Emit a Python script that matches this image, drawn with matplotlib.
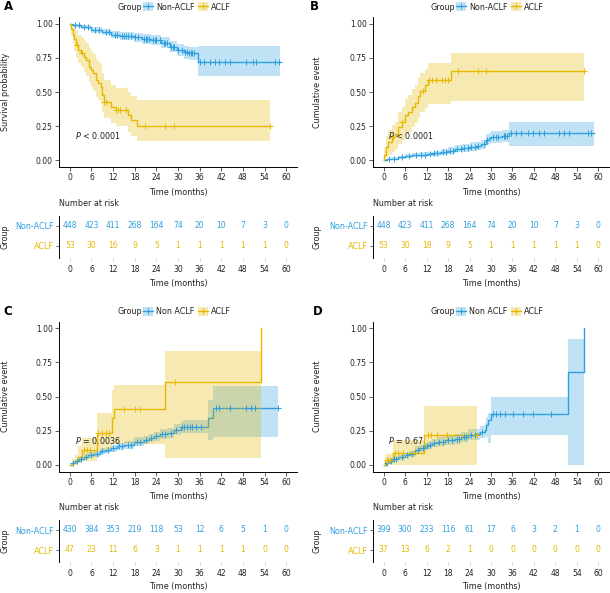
import numpy as np
import matplotlib.pyplot as plt
from matplotlib.patches import Patch
from matplotlib.lines import Line2D

W, H = 610, 593
BLUE = '#2E9FDF'
YELLOW = '#E7B800'
TXT = '#222222'

months = [0, 6, 12, 18, 24, 30, 36, 42, 48, 54, 60]

# ---- A: survival probability ----
A_non_t = [0, 1, 3, 6, 9, 11.4, 14, 17.8, 20, 22.4, 25.2, 27.9, 29.8, 31.6, 33, 35.5]
A_non_v = [1, 0.99, 0.975, 0.955, 0.94, 0.92, 0.91, 0.90, 0.89, 0.88, 0.862, 0.833, 0.81, 0.79, 0.784, 0.718]
A_non_lo = [1, 0.98, 0.96, 0.935, 0.915, 0.893, 0.88, 0.867, 0.855, 0.843, 0.822, 0.79, 0.765, 0.743, 0.735, 0.615]
A_non_up = [1, 1.0, 0.99, 0.975, 0.963, 0.945, 0.937, 0.93, 0.922, 0.915, 0.9, 0.875, 0.855, 0.838, 0.833, 0.835]
A_non_end = 58.3
A_non_cens = [1.5, 2.5, 4, 5, 7, 8, 10, 11, 12.5, 13, 14.5, 15, 15.5, 16, 17, 18, 19, 20.5, 21, 21.5,
              22, 23, 23.5, 24, 25, 26, 26.5, 27, 28, 28.5, 29, 30, 31, 32, 32.5, 33, 33.5, 34, 34.5,
              36.0, 37.1, 38.8, 40.2, 41.3, 43.1, 44.3, 48.8, 50.7, 51.7, 57.0, 57.9]

A_aclf_t = [0, 0.4, 0.8, 1.2, 1.7, 2.4, 3.0, 4.0, 4.4, 5.3, 5.8, 6.3, 7.2, 7.8, 8.6, 9.0, 9.5, 11.3, 12.7, 16.0, 16.9, 18.7]
A_aclf_v = [1, 0.96, 0.92, 0.885, 0.845, 0.81, 0.785, 0.76, 0.735, 0.686, 0.66, 0.637, 0.588, 0.565, 0.539, 0.478, 0.43, 0.39, 0.368, 0.33, 0.294, 0.25]
A_aclf_lo = [1, 0.91, 0.85, 0.80, 0.75, 0.71, 0.68, 0.65, 0.62, 0.57, 0.54, 0.51, 0.46, 0.44, 0.41, 0.35, 0.31, 0.27, 0.25, 0.21, 0.18, 0.142]
A_aclf_up = [1, 1.0, 0.99, 0.97, 0.95, 0.92, 0.90, 0.88, 0.86, 0.82, 0.80, 0.78, 0.74, 0.72, 0.70, 0.64, 0.59, 0.55, 0.53, 0.50, 0.47, 0.445]
A_aclf_end = 55.6
A_aclf_cens = [1.9, 3.4, 9.6, 10.0, 12.8, 13.3, 13.8, 15.5, 20.9, 26.5, 29.0, 55.6]

A_risk_non = [448, 423, 411, 268, 164, 74, 20, 10, 7, 3, 0]
A_risk_aclf = [53, 30, 16, 9, 5, 1, 1, 1, 1, 1, 0]

# ---- B: cumulative event ----
B_non_t = [0, 1, 2, 4, 6, 8, 10, 12, 14, 16, 18, 20, 22, 24, 26, 27.3, 28.7, 29.5, 30.1, 33, 35]
B_non_v = [0, 0.005, 0.01, 0.02, 0.03, 0.035, 0.04, 0.045, 0.05, 0.06, 0.07, 0.085, 0.09, 0.1, 0.105, 0.118, 0.15, 0.16, 0.17, 0.175, 0.2]
B_non_lo = [0, 0, 0, 0.008, 0.015, 0.02, 0.023, 0.027, 0.03, 0.038, 0.046, 0.058, 0.062, 0.07, 0.074, 0.085, 0.11, 0.12, 0.128, 0.13, 0.105]
B_non_up = [0, 0.012, 0.02, 0.032, 0.045, 0.05, 0.057, 0.063, 0.07, 0.082, 0.094, 0.112, 0.118, 0.13, 0.136, 0.151, 0.19, 0.2, 0.212, 0.22, 0.282]
B_non_end = 58.9
B_non_cens = [1.5, 3, 5, 7, 9, 10.5, 11.5, 13, 14, 15, 16.5, 17.5, 18.5, 19.5, 20.5, 21.5, 22.5, 23.5,
              24.5, 25.5, 26.5, 28, 29, 30.5, 31.5, 32, 33.5, 34, 34.5,
              35.7, 37.0, 38.4, 40.3, 41.7, 43.5, 44.9, 49.1, 50.5, 51.9, 57.0, 57.9]

B_aclf_t = [0, 0.2, 0.6, 1.3, 2.2, 3.2, 4.1, 5.0, 5.9, 6.9, 7.8, 8.7, 9.7, 10.1, 11.5, 12.4, 18.7]
B_aclf_v = [0, 0.04, 0.1, 0.135, 0.17, 0.19, 0.245, 0.28, 0.33, 0.355, 0.39, 0.42, 0.47, 0.51, 0.55, 0.59, 0.654]
B_aclf_lo = [0, 0, 0.02, 0.04, 0.06, 0.08, 0.12, 0.15, 0.19, 0.21, 0.24, 0.27, 0.31, 0.35, 0.38, 0.41, 0.435]
B_aclf_up = [0, 0.1, 0.18, 0.22, 0.26, 0.28, 0.35, 0.39, 0.45, 0.48, 0.52, 0.55, 0.6, 0.64, 0.67, 0.716, 0.785]
B_aclf_end = 56.1
B_aclf_cens = [2.7, 5.0, 11.0, 12.6, 13.4, 14.6, 16.2, 17.1, 18.0, 20.8, 26.4, 28.7, 56.1]

B_risk_non = [448, 423, 411, 268, 164, 74, 20, 10, 7, 3, 0]
B_risk_aclf = [53, 30, 18, 9, 5, 1, 1, 1, 1, 1, 0]

# ---- C ----
C_non_t = [0, 0.7, 1.5, 2.5, 3.9, 5, 6.5, 8.5, 10, 11.3, 13.1, 15, 17.7, 20.5, 22, 23.3, 25.1, 27, 28.8, 30.7, 32, 38.2, 39.7]
C_non_v = [0, 0.012, 0.025, 0.04, 0.06, 0.07, 0.08, 0.1, 0.11, 0.12, 0.134, 0.145, 0.17, 0.18, 0.195, 0.207, 0.224, 0.23, 0.256, 0.276, 0.28, 0.346, 0.415]
C_non_lo = [0, 0.002, 0.012, 0.025, 0.042, 0.05, 0.06, 0.078, 0.087, 0.096, 0.108, 0.118, 0.14, 0.15, 0.163, 0.173, 0.188, 0.193, 0.215, 0.232, 0.235, 0.178, 0.2]
C_non_up = [0, 0.022, 0.038, 0.055, 0.078, 0.09, 0.1, 0.122, 0.133, 0.144, 0.16, 0.172, 0.2, 0.21, 0.227, 0.241, 0.26, 0.267, 0.297, 0.32, 0.325, 0.476, 0.578]
C_non_end = 57.6
C_non_cens = [1, 2, 3, 4.5, 6, 7.5, 9, 10.5, 12, 13.5, 14.5, 16, 17, 18.5, 19.5, 21, 22.5, 24, 25.5,
              26.5, 28, 29.5, 31, 31.8, 32.5, 33.2, 34, 35, 36.3,
              40.6, 41.3, 44.5, 48.9, 50.2, 51.4, 57.6]

C_aclf_t = [0, 0.6, 1.3, 2.3, 3.4, 7.4, 11.7, 12.2, 26.5, 53.1]
C_aclf_v = [0, 0.012, 0.024, 0.06, 0.11, 0.232, 0.34, 0.407, 0.605, 1.0]
C_aclf_lo = [0, 0, 0, 0.01, 0.024, 0.098, 0.15, 0.154, 0.049, 0.049]
C_aclf_up = [0, 0.04, 0.07, 0.14, 0.195, 0.378, 0.55, 0.585, 0.834, 0.834]
C_aclf_end = 53.1
C_aclf_cens = [3.9, 4.8, 5.7, 7.8, 9.0, 10.0, 10.8, 15.0, 18.2, 19.6, 29.3]

C_risk_non = [430, 384, 353, 219, 118, 53, 12, 6, 5, 1, 0]
C_risk_aclf = [47, 23, 11, 6, 3, 1, 1, 1, 1, 0, 0]

# ---- D ----
D_non_t = [0, 0.5, 1.3, 2.5, 4.1, 5.9, 7, 8.7, 10, 11.5, 12.5, 13.4, 15.2, 17.1, 19.9, 21.7, 23.6, 25.9, 26.8, 28.2, 28.7, 29.3, 30.1, 51.6, 55.9]
D_non_v = [0, 0.01, 0.024, 0.04, 0.056, 0.068, 0.08, 0.11, 0.12, 0.134, 0.145, 0.158, 0.17, 0.178, 0.19, 0.2, 0.22, 0.224, 0.24, 0.256, 0.29, 0.33, 0.37, 0.683, 1.0]
D_non_lo = [0, 0, 0.01, 0.024, 0.038, 0.048, 0.058, 0.085, 0.094, 0.106, 0.116, 0.127, 0.138, 0.145, 0.155, 0.163, 0.18, 0.183, 0.196, 0.208, 0.2, 0.16, 0.215, 0.0, 0.0]
D_non_up = [0, 0.02, 0.038, 0.056, 0.074, 0.088, 0.102, 0.135, 0.146, 0.162, 0.174, 0.189, 0.202, 0.211, 0.225, 0.237, 0.26, 0.265, 0.284, 0.304, 0.35, 0.38, 0.5, 0.92, 0.92]
D_non_end = 55.9
D_non_cens = [1, 2, 3, 3.5, 5, 6.5, 8, 9.5, 11, 12, 13, 14, 15.5, 16.5, 18, 19, 20.5, 21, 22.5, 23, 24.5, 25.5,
              27.5, 30.5, 31.5, 32.4, 33.8, 36.1, 38.9, 41.7, 46.8]

D_aclf_t = [0, 0.3, 2.7, 11.3]
D_aclf_v = [0, 0.035, 0.085, 0.215]
D_aclf_lo = [0, 0, 0, 0]
D_aclf_up = [0, 0.08, 0.178, 0.432]
D_aclf_end = 26.2
D_aclf_cens = [0.8, 1.3, 1.8, 3.2, 4.0, 5.5, 8.6, 12.3, 13.2, 15.0, 17.7, 26.2]

D_risk_non = [399, 300, 233, 116, 61, 17, 6, 3, 2, 1, 0]
D_risk_aclf = [37, 13, 6, 2, 1, 0, 0, 0, 0, 0, 0]

panels = [
    dict(letter='A', ylab='Survival probability', pval='$P$ < 0.0001', names=('Non-ACLF', 'ACLF'),
         non=(A_non_t, A_non_v, A_non_lo, A_non_up, A_non_end, A_non_cens),
         aclf=(A_aclf_t, A_aclf_v, A_aclf_lo, A_aclf_up, A_aclf_end, A_aclf_cens),
         risk=(A_risk_non, A_risk_aclf), x0=59, x1=297, y0=17, y1=167, ty=216, lx=4, yl=6),
    dict(letter='B', ylab='Cumulative event', pval='$P$ < 0.0001', names=('Non-ACLF', 'ACLF'),
         non=(B_non_t, B_non_v, B_non_lo, B_non_up, B_non_end, B_non_cens),
         aclf=(B_aclf_t, B_aclf_v, B_aclf_lo, B_aclf_up, B_aclf_end, B_aclf_cens),
         risk=(B_risk_non, B_risk_aclf), x0=373, x1=609, y0=17, y1=167, ty=216, lx=310, yl=318),
    dict(letter='C', ylab='Cumulative event', pval='$P$ = 0.0036', names=('Non ACLF', 'ACLF'),
         non=(C_non_t, C_non_v, C_non_lo, C_non_up, C_non_end, C_non_cens),
         aclf=(C_aclf_t, C_aclf_v, C_aclf_lo, C_aclf_up, C_aclf_end, C_aclf_cens),
         risk=(C_risk_non, C_risk_aclf), x0=59, x1=297, y0=321.5, y1=471.5, ty=520, lx=3, yl=6),
    dict(letter='D', ylab='Cumulative event', pval='$P$ = 0.67', names=('Non ACLF', 'ACLF'),
         non=(D_non_t, D_non_v, D_non_lo, D_non_up, D_non_end, D_non_cens),
         aclf=(D_aclf_t, D_aclf_v, D_aclf_lo, D_aclf_up, D_aclf_end, D_aclf_cens),
         risk=(D_risk_non, D_risk_aclf), x0=373, x1=609, y0=321.5, y1=471.5, ty=520, lx=313, yl=318),
]

FS = 5.8
fig = plt.figure(figsize=(W / 100, H / 100), dpi=100)


def box(x0, y0, x1, y1):
    return [x0 / W, 1 - y1 / H, (x1 - x0) / W, (y1 - y0) / H]


def ftext(x, y, s, **kw):
    kw.setdefault('va', 'center')
    kw.setdefault('color', TXT)
    kw.setdefault('fontsize', FS)
    fig.text(x / W, 1 - y / H, s, **kw)


def draw_curve(ax, curve, color):
    t, v, lo, up, end, cens = curve
    t, v, lo, up = map(np.asarray, (t, v, lo, up))
    if end > t[-1]:
        tl, vl = np.append(t, end), np.append(v, v[-1])
        tb, lob, upb = tl, np.append(lo, lo[-1]), np.append(up, up[-1])
    else:
        tl, vl = t, v
        tb, lob, upb = t, lo, up
    ax.plot(tl, vl, drawstyle='steps-post', color=color, lw=1.0, zorder=2)
    ax.fill_between(tb, lob, upb, step='post', color=color, alpha=0.3, lw=0, zorder=3)
    cens = np.asarray(cens)
    idx = np.searchsorted(t, cens, side='right') - 1
    ax.plot(cens, v[idx], ls='none', marker='+', ms=4, mew=0.7, color=color, zorder=4)


for p in panels:
    ax = fig.add_axes(box(p['x0'], p['y0'], p['x1'], p['y1']))
    draw_curve(ax, p['non'], BLUE)
    draw_curve(ax, p['aclf'], YELLOW)
    ax.set_xlim(-3, 63)
    ax.set_ylim(-0.05, 1.05)
    ax.set_xticks(months)
    ax.set_yticks([0, 0.25, 0.5, 0.75, 1.0])
    ax.set_yticklabels(['0.00', '0.25', '0.50', '0.75', '1.00'])
    for s in ('top', 'right'):
        ax.spines[s].set_visible(False)
    for s in ('left', 'bottom'):
        ax.spines[s].set_linewidth(0.7)
    ax.tick_params(labelsize=FS - 0.3, labelcolor=TXT, length=3, width=0.6, pad=1.5, color='#444444')
    ax.text(1.3, 0.18, p['pval'], fontsize=FS, color=TXT, ha='left', va='center', zorder=5)

    cx = (p['x0'] + p['x1']) / 2
    ftext(cx - 36, p['y0'] - 10, 'Group', ha='right')
    hands = [(Patch(facecolor=c, alpha=0.3, lw=0), Line2D([], [], color=c, lw=1.0, marker='+', ms=4, mew=0.7))
             for c in (BLUE, YELLOW)]
    fig.legend(hands, list(p['names']), loc='center left',
               bbox_to_anchor=((cx - 35) / W, 1 - (p['y0'] - 10) / H), ncol=2, frameon=False,
               fontsize=FS, handlelength=1.3, handleheight=1.3, handletextpad=0.35,
               columnspacing=0.4, borderpad=0, borderaxespad=0, labelcolor=TXT)
    ftext(p['lx'], p['y0'] - 10, p['letter'], fontsize=8.5, fontweight='bold', color='black', ha='left')
    ftext(p['yl'], (p['y0'] + p['y1']) / 2, p['ylab'], rotation=90, ha='center')
    ftext(cx, p['y1'] + 25, 'Time (months)', ha='center')

    # risk table
    ty = p['ty']
    tab = fig.add_axes(box(p['x0'], ty, p['x1'], ty + 42))
    tab.set_xlim(-3, 63)
    tab.set_ylim(0.4, 2.5)
    rn, ra = p['risk']
    for m, a, b in zip(months, rn, ra):
        tab.text(m, 2, str(a), color=BLUE, ha='center', va='center', fontsize=FS - 0.3)
        tab.text(m, 1, str(b), color=YELLOW, ha='center', va='center', fontsize=FS - 0.3)
    tab.set_xticks(months)
    tab.set_yticks([2, 1])
    tab.set_yticklabels(['Non-ACLF', 'ACLF'])
    for lab, c in zip(tab.get_yticklabels(), (BLUE, YELLOW)):
        lab.set_color(c)
    for s in ('top', 'right', 'bottom'):
        tab.spines[s].set_visible(False)
    tab.spines['left'].set_linewidth(0.7)
    tab.tick_params(axis='y', labelsize=FS, length=2.5, width=0.6, pad=1.2, color='#444444')
    tab.tick_params(axis='x', labelsize=FS - 0.3, labelcolor=TXT, length=2.5, width=0.6,
                    pad=2.5, color='#cccccc')
    ftext(p['x0'], ty - 12, 'Number at risk', ha='left')
    ftext(p['yl'] - 1, ty + 21, 'Group', rotation=90, ha='center')
    ftext(cx, ty + 67, 'Time (months)', ha='center')

fig.savefig('out.png', dpi=100)
